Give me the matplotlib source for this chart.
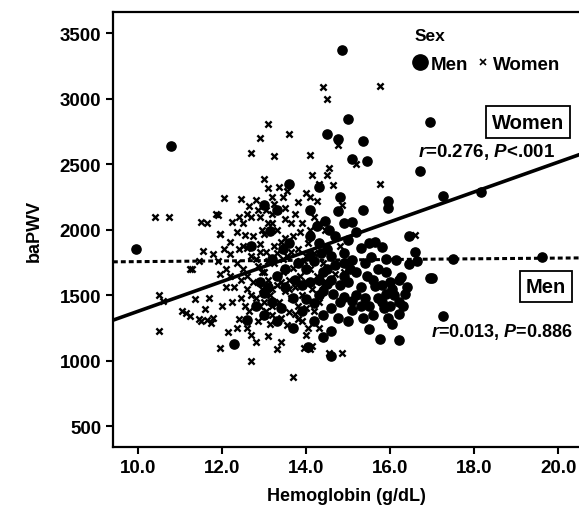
import matplotlib.pyplot as plt
from matplotlib.lines import Line2D
import numpy as np

plt.rcParams['font.family'] = ['Liberation Sans', 'DejaVu Sans']
plt.rcParams['font.weight'] = 'bold'
plt.rcParams['mathtext.fontset'] = 'custom'
plt.rcParams['mathtext.it'] = 'Liberation Sans:bold:italic'
plt.rcParams['mathtext.rm'] = 'Liberation Sans:bold'

# Women (x markers): hemoglobin, baPWV
women_hb = [10.4, 10.75, 10.5, 10.5, 10.6,
            11.05, 11.15, 11.25, 11.35, 11.45, 11.5, 11.6, 11.65, 11.7, 11.75, 11.8, 11.3, 11.45,
            11.5, 11.65, 11.85, 12.05, 11.95, 11.95, 12.0, 11.95, 12.15, 12.35, 12.7,
            12.7, 12.9, 13.1, 13.25, 13.6,
            14.4, 14.5, 15.75, 15.75,
            13.7, 12.7, 12.8, 13.1, 13.4, 13.3, 13.95, 14.1, 12.3, 12.25, 12.45, 12.65,
            13.0, 13.1, 13.35, 13.55, 12.45, 12.8, 13.2, 13.5, 13.8, 11.9, 12.5, 12.6, 12.7, 12.9,
            13.2, 13.2, 11.95, 12.2, 12.4, 12.9, 13.0, 13.4, 13.6, 11.55, 11.8, 12.2, 13.05, 11.25,
            14.1, 14.15, 14.55, 14.5, 14.75, 15.2, 14.3, 14.65, 14.0, 14.1, 14.25, 14.85, 14.45,
            16.6, 14.8, 14.7, 14.9, 14.4, 14.05, 14.0, 14.15, 14.85, 14.55,
            12.5, 12.6, 12.75, 12.85, 12.95, 13.0, 13.1, 13.15, 13.25, 13.3, 13.35, 13.45, 13.5,
            13.55, 13.6, 13.65, 13.7, 13.75, 13.8, 13.85, 13.9, 13.95, 14.0, 14.05, 14.1, 14.15,
            14.2, 14.25, 14.3, 12.55, 12.7, 12.8, 12.9, 13.05, 13.2, 13.4, 13.6, 13.8, 14.0,
            12.6, 12.75, 12.95, 13.1, 13.3, 13.5, 13.7, 13.9, 14.1, 13.25, 13.5, 13.75, 12.45,
            12.35, 12.2, 12.1, 12.4, 12.85, 13.15, 13.55, 13.9,
            12.55, 12.65, 12.85, 13.05, 13.25, 13.45, 13.65, 13.85, 12.35, 12.5, 12.7, 12.9,
            13.1, 13.3, 13.45, 13.65, 13.85, 14.0, 12.6, 12.8, 13.0, 13.2, 13.4, 13.6, 13.8,
            14.2, 14.35, 14.4, 14.2, 14.3, 12.4, 12.25, 11.9, 12.05, 12.1, 12.6, 13.2, 13.75,
            14.3, 12.95]
women_pwv = [2095, 2095, 1500, 1225, 1460,
             1380, 1365, 1340, 1470, 1320, 1300, 1395, 1310, 1480, 1290, 1325, 1700, 1760,
             2060, 2055, 2120, 2240, 1970, 1660, 1415, 1100, 1220, 1250, 1000,
             2590, 2700, 2810, 2560, 2730,
             3090, 3000, 3100, 2350,
             880, 1200, 1140, 1190, 1140, 1090, 1100, 1090, 1560, 1450, 1480, 1380,
             2390, 2320, 2325, 2295, 2235, 2225, 2250, 2170, 2210, 2115, 2050, 2120, 2095, 2095,
             2120, 2055, 1965, 1905, 1850, 1890, 1965, 1905, 1890, 1835, 1815, 1815, 1830, 1700,
             2570, 2420, 2470, 2420, 2650, 2500, 2350, 2345, 2280, 2250, 2220, 2190, 2000,
             1960, 1880, 1660, 1680, 1580, 1250, 1200, 1110, 1060, 1060,
             1700, 1650, 1600, 1720, 1550, 1680, 1620, 1500, 1750, 1580, 1450, 1680, 1530,
             1800, 1620, 1480, 1710, 1560, 1850, 1650, 1500, 1760, 1600, 1900, 1700, 1550,
             1820, 1650, 1450, 1420, 1500, 1780, 1420, 1380, 1350, 1330, 1370, 1320, 1400,
             1860, 1950, 2000, 2050, 2000, 2080, 1950, 2050, 2000, 1880, 1940, 2120, 1620,
             1750, 1650, 1560, 1320, 1300, 1280, 1270, 1300,
             1960, 2180, 2150, 2150, 2200, 2250, 2050, 1980, 1980, 1880, 1800, 1830,
             1760, 1820, 1780, 1830, 1760, 1800, 1550, 1480, 1450, 1550, 1600, 1550, 1420,
             1380, 1600, 1750, 2100, 2050, 2100, 2060, 1760, 1850, 1700, 1250, 1420, 1360,
             1250, 1680]

# Men (filled circles): hemoglobin, baPWV
men_hb = [9.95, 10.8, 12.3, 12.6, 12.7,
          14.85, 15.0, 16.95, 14.5, 14.75, 15.35, 15.1, 15.45, 16.7, 17.25, 18.15,
          14.3, 14.8, 15.95, 15.95, 15.35, 14.75, 15.1, 14.45, 14.25, 14.1, 16.45, 15.65, 14.9,
          16.6, 15.55, 15.9, 16.15, 16.65, 16.45,
          17.0, 17.5, 19.6, 17.25,
          15.9, 16.25, 16.95, 15.65, 16.05, 16.35, 15.9, 16.2, 15.8, 15.5, 15.1, 14.8, 14.65,
          14.5, 14.2, 14.75, 15.35, 15.95, 16.2, 16.05, 15.5, 15.75, 16.2, 14.05, 14.6, 15.05, 14.9,
          13.0, 13.2, 13.3, 13.5, 13.7, 13.9, 14.0, 14.2, 14.4, 14.6, 13.8, 13.6, 14.3, 14.5,
          14.7, 13.4, 14.0, 14.4, 13.1, 14.8, 15.0, 15.2, 15.3, 15.4, 15.0, 14.6, 13.9, 14.2,
          12.9, 13.3, 13.6, 15.3, 15.7, 15.6, 16.3, 15.1, 14.9, 14.4, 13.0, 13.15,
          14.1, 14.3, 14.5, 14.7, 14.9, 15.1, 15.2, 15.4, 15.6, 15.8, 16.0, 16.1, 15.85, 15.7,
          15.45, 14.6, 14.3, 14.1, 14.35, 14.55, 14.9, 15.2, 13.5, 13.75, 13.2, 13.45, 13.0,
          13.3, 12.8, 15.5, 15.8, 16.2, 16.4, 15.0, 14.6, 14.4, 13.7, 16.0, 15.3, 14.1]
men_pwv = [1850, 2640, 1125, 1315, 1875,
           3370, 2845, 2820, 2735, 2690, 2675, 2540, 2525, 2450, 2255, 2285,
           2330, 2250, 2220, 2170, 2150, 2140, 2060, 2065, 2030, 1950, 1950, 1905, 1820,
           1830, 1790, 1780, 1770, 1765, 1740,
           1635, 1775, 1790, 1340,
           1680, 1640, 1630, 1570, 1545, 1510, 1510, 1450, 1450, 1415, 1455, 1445, 1510,
           1585, 1440, 1325, 1330, 1330, 1355, 1280, 1240, 1165, 1155, 1105, 1035, 1700, 1750,
           1520, 1450, 1650, 1560, 1480, 1580, 1700, 1760, 1680, 1800, 1750, 1900, 1900, 1850,
           1950, 1400, 1470, 1350, 1560, 1580, 1600, 1680, 1560, 1750, 1920, 1620, 1380, 1300,
           1600, 2150, 2350, 1860, 1700, 1350, 1420, 1390, 1490, 1530, 2190, 1990,
           1600, 1620, 1700, 1730, 1650, 1770, 1500, 1480, 1620, 1580, 1600, 1500, 1400, 1480,
           1650, 1400, 1500, 1800, 1820, 2000, 2050, 1980, 1700, 1620, 1780, 1850, 1350,
           1300, 1420, 1900, 1870, 1620, 1560, 1300, 1230, 1180, 1250, 1420, 1420, 2150]

# fitted lines (intercept, slope)
women_fit = (237, 114)
men_fit = (1730, 2.7)

fig = plt.figure(figsize=(5.79, 5.1), dpi=100)
ax = fig.add_axes([0.195, 0.1216, 0.805, 0.853])

ax.scatter(women_hb, women_pwv, marker='x', s=20, linewidths=1.7, color='black', zorder=3)
ax.scatter(men_hb, men_pwv, marker='o', s=44, color='black', edgecolors='black', zorder=3)

xs = np.array([9.41, 20.5])
ax.plot(xs, women_fit[0] + women_fit[1] * xs, color='black', lw=2.6, zorder=4)
ax.plot(xs, men_fit[0] + men_fit[1] * xs, color='black', lw=2.2, ls=(0, (1.6, 1.0)), zorder=4)

ax.set_xlim(9.41, 20.49)
ax.set_ylim(342, 3663)
ax.set_xticks([10, 12, 14, 16, 18, 20])
ax.set_xticklabels(['10.0', '12.0', '14.0', '16.0', '18.0', '20.0'])
ax.set_yticks([500, 1000, 1500, 2000, 2500, 3000, 3500])
ax.tick_params(labelsize=13.5, width=1.5, length=5)
for s in ['left', 'bottom', 'top']:
    ax.spines[s].set_linewidth(1.6)
ax.spines['right'].set_visible(False)

ax.set_xlabel('Hemoglobin (g/dL)', fontsize=13, fontweight='bold', labelpad=8)
ax.set_ylabel('baPWV', fontsize=13, fontweight='bold', labelpad=12)

# legend: title placed as its own text, left-aligned over the circle
handles = [Line2D([], [], marker='o', ls='none', color='black', markersize=11),
           Line2D([], [], marker='x', ls='none', color='black', markersize=5, markeredgewidth=1.2)]
ax.legend(handles, ['Men', 'Women'], ncol=2, frameon=False,
          loc='center', bbox_to_anchor=(0.80, 0.880), handletextpad=0.05,
          columnspacing=0.3, handlelength=1.0, fontsize=13.5)
ax.text(0.648, 0.945, 'Sex', transform=ax.transAxes, ha='left', va='center', fontsize=12.5)

ax.text(0.89, 0.747, 'Women', transform=ax.transAxes, ha='center', va='center', fontsize=14.5,
        bbox=dict(boxstyle='square,pad=0.3', fc='white', ec='black', lw=1.3))
ax.text(0.655, 0.68, r'$r$=0.276, $P$<.001', transform=ax.transAxes, ha='left', va='center',
        fontsize=13.5)
ax.text(0.929, 0.368, 'Men', transform=ax.transAxes, ha='center', va='center', fontsize=14.5,
        bbox=dict(boxstyle='square,pad=0.3', fc='white', ec='black', lw=1.3))
ax.text(0.683, 0.267, r'$r$=0.013, $P$=0.886', transform=ax.transAxes, ha='left', va='center',
        fontsize=13)

fig.savefig('out.png', dpi=100)
